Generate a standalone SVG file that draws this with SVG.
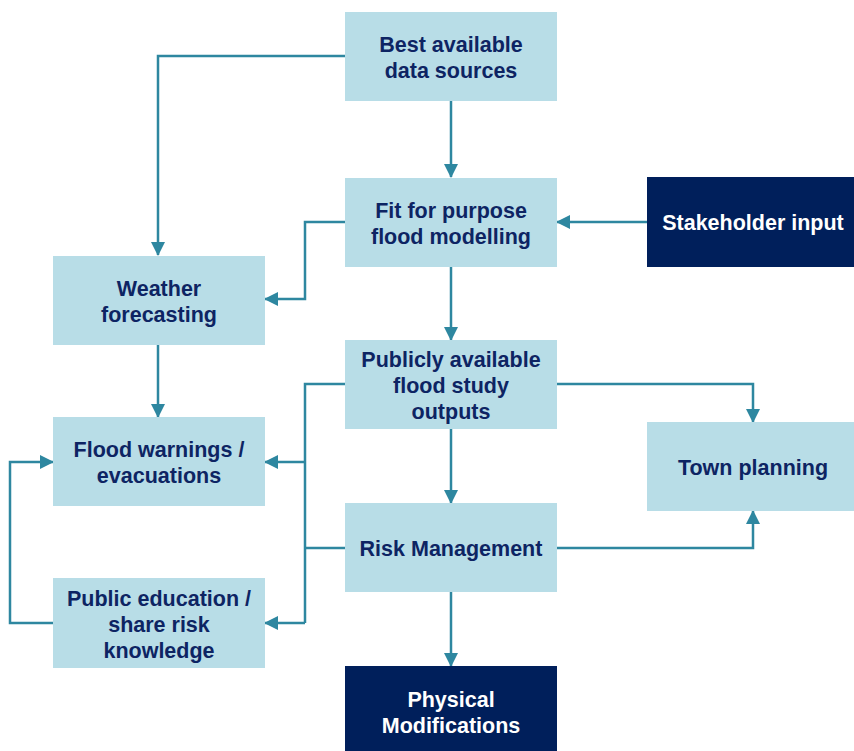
<svg xmlns="http://www.w3.org/2000/svg" width="854" height="751" viewBox="0 0 854 751">
  <defs>
    <marker id="arrow" markerUnits="userSpaceOnUse" markerWidth="14" markerHeight="14" viewBox="0 0 14 14" refX="13" refY="7" orient="auto">
      <path d="M0,0 L14,7 L0,14 Z" fill="#2E87A0"/>
    </marker>
  </defs>
  <style>
    .box { fill: #B8DDE7; }
    .dark { fill: #001F5B; }
    .lbl { font-family: "Liberation Sans", Arial, sans-serif; font-weight: bold; font-size: 21.5px; text-anchor: middle; fill: #0D2463; }
    .lbl-w { font-family: "Liberation Sans", Arial, sans-serif; font-weight: bold; font-size: 21.5px; text-anchor: middle; fill: #FFFFFF; }
    .conn { fill: none; stroke: #2E87A0; stroke-width: 2.5; }
  </style>
  <rect width="854" height="751" fill="#FFFFFF"/>

  <g id="connectors">
    <path class="conn" d="M345,56 H158 V255" marker-end="url(#arrow)"/>
    <path class="conn" d="M451,101 V177" marker-end="url(#arrow)"/>
    <path class="conn" d="M647,222 H557" marker-end="url(#arrow)"/>
    <path class="conn" d="M345,222 H305 V299 H265" marker-end="url(#arrow)"/>
    <path class="conn" d="M451,267 V340" marker-end="url(#arrow)"/>
    <path class="conn" d="M158,345 V417" marker-end="url(#arrow)"/>
    <path class="conn" d="M345,384 H305 V623"/>
    <path class="conn" d="M305,462 H265" marker-end="url(#arrow)"/>
    <path class="conn" d="M345,548 H305"/>
    <path class="conn" d="M305,623 H265" marker-end="url(#arrow)"/>
    <path class="conn" d="M53,623 H10 V462 H53" marker-end="url(#arrow)"/>
    <path class="conn" d="M557,384 H753 V422" marker-end="url(#arrow)"/>
    <path class="conn" d="M557,548 H753 V511" marker-end="url(#arrow)"/>
    <path class="conn" d="M451,429 V503" marker-end="url(#arrow)"/>
    <path class="conn" d="M451,592 V666" marker-end="url(#arrow)"/>
  </g>

  <g id="best-data">
    <rect class="box" x="345" y="12" width="212" height="89"/>
    <text class="lbl" x="451" y="51.5">Best available</text>
    <text class="lbl" x="451" y="77.5">data sources</text>
  </g>
  <g id="flood-modelling">
    <rect class="box" x="345" y="178" width="212" height="89"/>
    <text class="lbl" x="451" y="217.5">Fit for purpose</text>
    <text class="lbl" x="451" y="243.5">flood modelling</text>
  </g>
  <g id="stakeholder">
    <rect class="dark" x="647" y="177" width="207" height="90"/>
    <text class="lbl-w" x="753" y="230">Stakeholder input</text>
  </g>
  <g id="weather">
    <rect class="box" x="53" y="256" width="212" height="89"/>
    <text class="lbl" x="159" y="295.5">Weather</text>
    <text class="lbl" x="159" y="321.5">forecasting</text>
  </g>
  <g id="flood-study">
    <rect class="box" x="345" y="340" width="212" height="89"/>
    <text class="lbl" x="451" y="366.5">Publicly available</text>
    <text class="lbl" x="451" y="392.5">flood study</text>
    <text class="lbl" x="451" y="418.5">outputs</text>
  </g>
  <g id="flood-warnings">
    <rect class="box" x="53" y="417" width="212" height="89"/>
    <text class="lbl" x="159" y="456.5">Flood warnings /</text>
    <text class="lbl" x="159" y="482.5">evacuations</text>
  </g>
  <g id="town-planning">
    <rect class="box" x="647" y="422" width="207" height="89"/>
    <text class="lbl" x="753" y="474.5">Town planning</text>
  </g>
  <g id="risk-management">
    <rect class="box" x="345" y="503" width="212" height="89"/>
    <text class="lbl" x="451" y="555.5">Risk Management</text>
  </g>
  <g id="public-education">
    <rect class="box" x="53" y="578" width="212" height="90"/>
    <text class="lbl" x="159" y="605.5">Public education /</text>
    <text class="lbl" x="159" y="631.5">share risk</text>
    <text class="lbl" x="159" y="657.5">knowledge</text>
  </g>
  <g id="physical">
    <rect class="dark" x="345" y="666" width="212" height="90"/>
    <text class="lbl-w" x="451" y="706.5">Physical</text>
    <text class="lbl-w" x="451" y="732.5">Modifications</text>
  </g>
</svg>
